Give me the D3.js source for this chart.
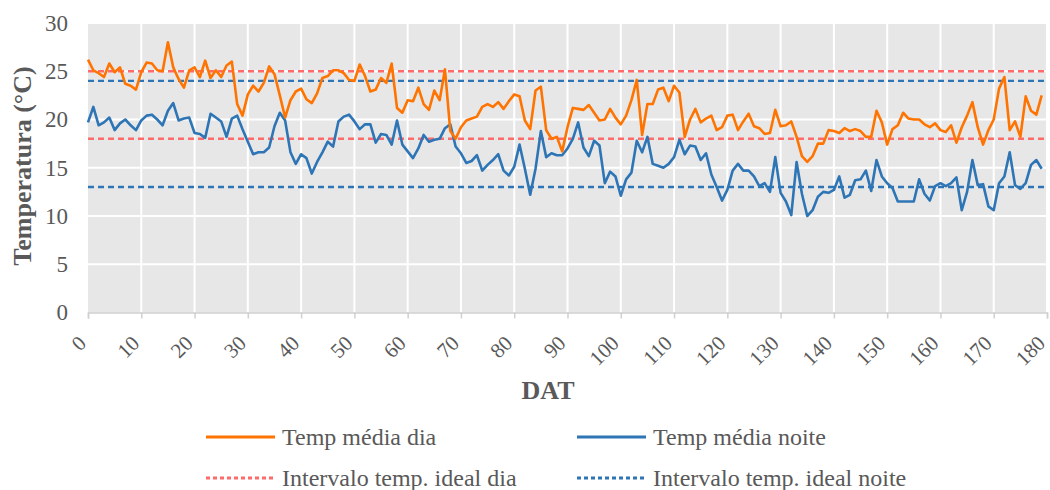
<!DOCTYPE html>
<html><head><meta charset="utf-8">
<script src="https://cdn.jsdelivr.net/npm/d3@7"></script>
<style>body{margin:0;background:#fff;}svg{display:block;}</style>
</head><body><svg id="c" width="1050" height="490"></svg>
<script>
const tempDia = [26.2,25.1,24.8,24.4,25.8,24.9,25.4,23.7,23.5,23.1,24.9,25.9,25.8,25.1,25.0,28.0,25.4,24.2,23.3,25.1,
25.4,24.4,26.1,24.3,25.1,24.4,25.6,26.0,21.6,20.4,22.6,23.5,22.9,23.8,25.5,24.7,22.5,20.2,22.0,22.9,
23.2,22.1,21.7,22.7,24.3,24.5,25.1,25.1,24.8,24.1,24.0,25.7,24.5,22.9,23.1,24.3,23.8,25.8,21.2,20.7,
22.0,21.9,23.3,21.6,21.0,23.0,22.0,25.2,18.8,18.0,19.2,19.9,20.1,20.3,21.3,21.6,21.3,21.8,21.1,21.9,
22.6,22.4,19.9,19.0,23.0,23.4,18.9,18.0,18.2,16.7,19.2,21.2,21.1,21.0,21.5,20.7,19.9,20.0,21.1,20.2,
19.5,20.4,22.0,24.1,18.4,21.6,21.6,23.1,23.3,21.9,23.5,22.8,18.2,20.0,21.1,19.7,20.1,20.4,18.9,19.2,
20.4,20.5,18.9,19.8,20.6,19.3,19.1,18.5,18.6,21.0,19.3,19.4,19.8,18.2,16.2,15.6,16.2,17.5,17.5,18.9,
18.8,18.6,19.1,18.8,19.0,18.8,18.2,18.2,20.9,19.7,17.4,19.0,19.4,20.7,20.1,20.0,20.0,19.5,19.2,19.6,
18.9,18.7,19.4,17.6,19.2,20.4,21.8,19.2,17.4,18.9,20.0,23.2,24.4,18.9,19.8,18.2,22.4,20.9,20.5,22.5];
const tempNoite = [19.7,21.3,19.4,19.7,20.2,18.9,19.6,20.0,19.4,18.9,19.9,20.4,20.5,20.0,19.4,20.9,21.7,19.9,20.1,20.2,
18.6,18.5,18.1,20.6,20.2,19.8,18.2,20.1,20.4,19.0,17.7,16.4,16.6,16.6,17.1,19.3,20.7,19.9,16.6,15.4,
16.4,16.0,14.4,15.6,16.6,17.7,17.2,19.8,20.3,20.5,19.8,19.0,19.5,19.5,17.6,18.5,18.4,17.4,19.9,17.4,
16.7,16.0,17.0,18.4,17.7,17.9,18.0,19.1,19.5,17.2,16.5,15.5,15.7,16.3,14.7,15.3,15.8,16.4,14.7,14.2,
15.1,17.4,14.9,12.2,14.9,18.8,16.1,16.5,16.3,16.3,17.0,18.0,19.7,17.1,16.2,17.8,17.3,13.4,14.6,14.1,
12.1,13.8,14.5,17.8,16.6,18.2,15.4,15.2,15.0,15.4,16.1,17.9,16.4,17.3,17.2,15.8,16.5,14.3,13.0,11.6,
12.7,14.7,15.4,14.7,14.7,14.1,13.1,13.4,12.5,16.1,12.4,11.5,10.1,15.6,12.3,10.0,10.6,12.0,12.5,12.4,
12.7,14.1,11.9,12.2,13.7,13.8,14.7,12.6,15.8,14.1,13.4,12.9,11.5,11.5,11.5,11.5,13.8,12.3,11.6,13.1,
13.4,13.1,13.4,14.0,10.6,12.5,15.8,13.2,13.3,11.0,10.6,13.4,14.1,16.6,13.2,12.8,13.4,15.3,15.8,14.9];
const idealDia = [18, 25];
const idealNoite = [13, 24];
const xTicks = [0,10,20,30,40,50,60,70,80,90,100,110,120,130,140,150,160,170,180];
const yTicks = [0,5,10,15,20,25,30];
const legendLabels = ["Temp média dia","Temp média noite","Intervalo temp. ideal dia","Intervalo temp. ideal noite"];

const colDia = "#ff7400", colNoite = "#2e75b6", colIdealDia = "#ff6b6b", colIdealNoite = "#2e75b6";
const font = "Liberation Serif";
const textCol = "#595959";

const svg = d3.select("#c");
const L = 88, R = 1047, T = 23, B = 312.5;
const x = d3.scaleLinear().domain([0,180]).range([L,R]);
const y = d3.scaleLinear().domain([0,30]).range([B,T]);

svg.append("rect").attr("x",L).attr("y",T).attr("width",R-L).attr("height",B-T).attr("fill","#e7e7e7");

svg.append("g").selectAll("line").data(yTicks.filter(d=>d>0)).join("line")
  .attr("x1",L).attr("x2",R).attr("y1",d=>y(d)).attr("y2",d=>y(d))
  .attr("stroke","#fff").attr("stroke-width",2);
svg.append("g").selectAll("line").data(xTicks.filter(d=>d>0)).join("line")
  .attr("x1",d=>x(d)).attr("x2",d=>x(d)).attr("y1",T).attr("y2",B)
  .attr("stroke","#fff").attr("stroke-width",2);

const xa = svg.append("g").attr("transform",`translate(0,${B})`)
  .call(d3.axisBottom(x).tickValues(xTicks).tickSize(6).tickFormat(d3.format("d")));
xa.select(".domain").attr("stroke","#d0d0d0").attr("stroke-width",1.5);
xa.selectAll(".tick line").attr("stroke","#d0d0d0").attr("stroke-width",1.5);
xa.selectAll(".tick text").attr("font-family",font).attr("font-size",21).attr("fill",textCol)
  .attr("text-anchor","end").attr("y",0).attr("dy",0)
  .attr("transform","translate(-1,32) rotate(-45)");

const ya = svg.append("g").attr("transform",`translate(${L},0)`)
  .call(d3.axisLeft(y).tickValues(yTicks).tickSize(0).tickPadding(20));
ya.select(".domain").remove();
ya.selectAll(".tick text").attr("font-family",font).attr("font-size",23).attr("fill",textCol);

const refs = [
  {v: idealDia[0], c: colIdealDia}, {v: idealDia[1], c: colIdealDia},
  {v: idealNoite[0], c: colIdealNoite}, {v: idealNoite[1], c: colIdealNoite}
];
svg.append("g").selectAll("line").data(refs).join("line")
  .attr("x1",L).attr("x2",R).attr("y1",d=>y(d.v)).attr("y2",d=>y(d.v))
  .attr("stroke",d=>d.c).attr("stroke-width",2.4).attr("stroke-dasharray","6,4");

const line = d3.line().x((d,i)=>x(i)).y(d=>y(d));
svg.append("path").datum(tempNoite).attr("d",line).attr("fill","none")
  .attr("stroke",colNoite).attr("stroke-width",2.6).attr("stroke-linejoin","round");
svg.append("path").datum(tempDia).attr("d",line).attr("fill","none")
  .attr("stroke",colDia).attr("stroke-width",2.6).attr("stroke-linejoin","round");

svg.append("text").attr("x",548).attr("y",399).attr("text-anchor","middle").attr("font-family",font)
  .attr("font-size",26).attr("font-weight","bold").attr("fill",textCol).text("DAT");
svg.append("text").attr("transform","translate(31,166) rotate(-90)").attr("text-anchor","middle").attr("font-family",font)
  .attr("font-size",26).attr("font-weight","bold").attr("fill",textCol).text("Temperatura (°C)");

const leg = [
  {lx:206, ly:437, c:colDia, dash:null},
  {lx:577, ly:437, c:colNoite, dash:null},
  {lx:206, ly:478, c:colIdealDia, dash:"4,3"},
  {lx:577, ly:478, c:colIdealNoite, dash:"4,3"}
];
leg.forEach((d,i)=>{
  svg.append("line").attr("x1",d.lx).attr("x2",d.lx+69).attr("y1",d.ly).attr("y2",d.ly)
    .attr("stroke",d.c).attr("stroke-width",2.8).attr("stroke-dasharray",d.dash);
  svg.append("text").attr("x",d.lx+76).attr("y",d.ly+8).attr("font-family",font).attr("font-size",24)
    .attr("fill",textCol).text(legendLabels[i]);
});
</script></body></html>
